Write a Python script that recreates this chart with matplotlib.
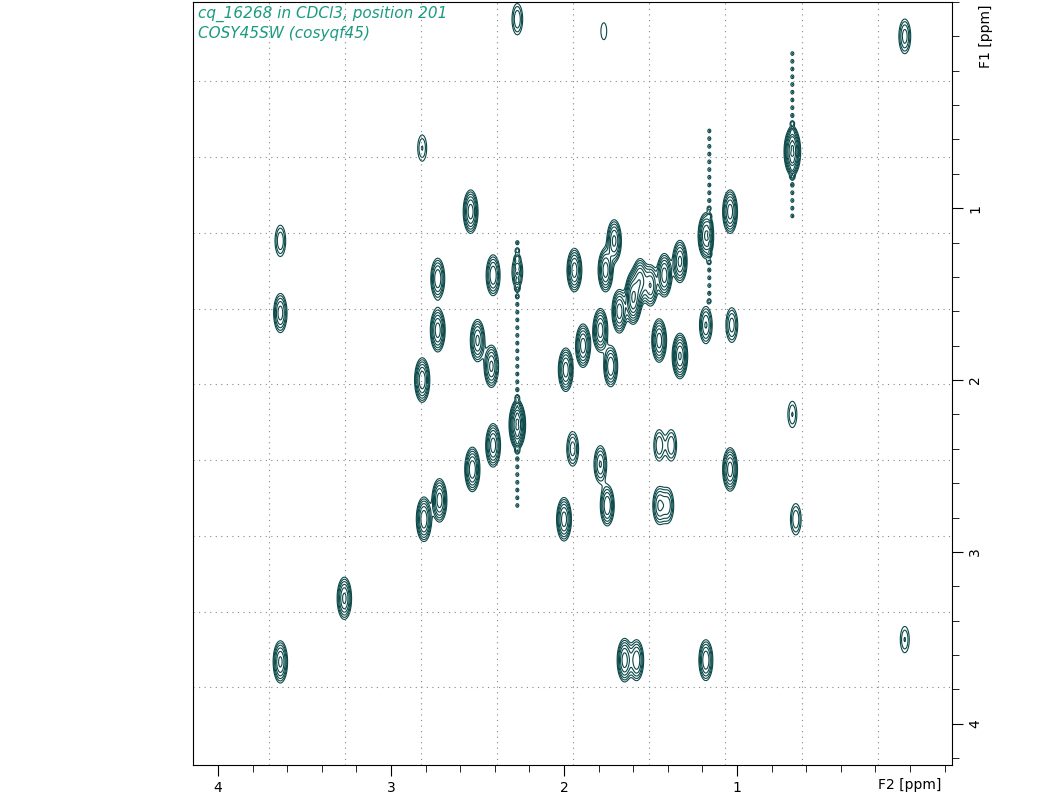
import matplotlib
matplotlib.use("Agg")
import matplotlib.pyplot as plt
import numpy as np

# peak list: F2 (ppm), F1 (ppm), height
peak_f2 = [0.03, 2.27, 1.77, 0.68, 2.82, 2.54, 3.64, 2.73, 2.41, 2.27, 1.94, 1.71, 1.76, 1.56,
           1.42, 1.33, 1.18, 1.04, 3.64, 2.73, 2.50, 2.42, 2.82, 1.99, 1.89, 1.79, 1.68, 1.60,
           1.45, 1.33, 1.18, 1.03, 1.73, 2.27, 2.53, 2.41, 1.95, 1.79, 1.45, 1.38, 1.04, 0.68,
           2.81, 2.72, 2.00, 1.75, 1.45, 1.40, 0.66, 3.27, 3.64, 1.65, 1.58, 1.18, 0.03, 1.60, 1.50]
peak_f1 = [0.00, -0.10, -0.03, 0.67, 0.65, 1.02, 1.19, 1.41, 1.39, 1.37, 1.36, 1.19, 1.36, 1.42,
           1.39, 1.31, 1.16, 1.02, 1.61, 1.71, 1.77, 1.92, 2.00, 1.94, 1.80, 1.71, 1.60, 1.50,
           1.77, 1.86, 1.68, 1.68, 1.92, 2.26, 2.52, 2.38, 2.40, 2.49, 2.38, 2.38, 2.52, 2.20,
           2.81, 2.70, 2.81, 2.73, 2.73, 2.73, 2.81, 3.27, 3.64, 3.63, 3.63, 3.63, 3.51, 1.55, 1.45]
peak_h = [0.5, 0.4, 0.2, 1.6, 0.3, 1.0, 0.4, 0.8, 0.8, 0.4, 1.0, 0.9, 1.0, 1.0,
          1.0, 0.9, 1.2, 1.0, 0.7, 1.0, 0.9, 0.9, 1.1, 1.0, 1.0, 1.0, 1.0, 1.0,
          1.0, 1.2, 0.6, 0.5, 0.8, 1.6, 1.1, 1.0, 0.5, 0.6, 0.4, 0.4, 1.0, 0.3,
          1.1, 1.0, 1.0, 0.8, 0.6, 0.5, 0.4, 0.9, 0.9, 1.0, 0.8, 0.8, 0.3, 0.8, 0.8]
peak_wx = 0.022
peak_wy = 0.065

# t1-noise streaks: F2 position, F1 start, F1 end
streak_f2 = [0.68, 2.27, 1.16]
streak_lo = [0.10, 1.20, 0.55]
streak_hi = [1.05, 2.75, 1.55]

x = np.linspace(-0.25, 4.15, 900)
y = np.linspace(-0.22, 4.25, 900)
X, Y = np.meshgrid(x, y)
Z = np.zeros_like(X)
for px, py, h in zip(peak_f2, peak_f1, peak_h):
    Z += h * np.exp(-((X - px) / peak_wx) ** 2 / 2 - ((Y - py) / peak_wy) ** 2 / 2)
for sx, lo, hi in zip(streak_f2, streak_lo, streak_hi):
    for sy in np.arange(lo, hi, 0.045):
        Z += 0.22 * np.exp(-((X - sx) / 0.01) ** 2 / 2 - ((Y - sy) / 0.012) ** 2 / 2)

fig = plt.figure(figsize=(10.6, 7.93), dpi=100)
ax = fig.add_axes([193 / 1060, 1 - 765 / 793, 759 / 1060, 763 / 793])
levels = 0.15 * 1.4 ** np.arange(8)
ax.contour(X, Y, Z, levels=levels, colors="#0b4848", linewidths=0.8)

ax.set_xlim(4.145, -0.243)
ax.set_ylim(4.24, -0.2)

for g in np.arange(3.707, -0.2, -0.44):
    ax.axvline(g, color="#888888", ls=(0, (1, 4)), lw=0.8)
for g in np.arange(0.261, 4.2, 0.441):
    ax.axhline(g, color="#888888", ls=(0, (1, 4)), lw=0.8)

ax.set_xticks([4, 3, 2, 1])
ax.set_xticklabels(["4", "3", "2", "1"])
ax.set_xticks(np.arange(-0.2, 4.11, 0.2), minor=True)
ax.yaxis.tick_right()
ax.set_yticks([1, 2, 3, 4])
ax.set_yticks(np.arange(-0.2, 4.21, 0.2), minor=True)
ax.set_yticklabels(["1", "2", "3", "4"], rotation=90, va="center")
ax.tick_params(which="major", length=8, labelsize=10)
ax.tick_params(which="minor", length=5)
ax.text(0.0, -0.026, "F2 [ppm]", transform=ax.get_xaxis_transform(), ha="center", va="center", fontsize=10)
ax.text(1.035, 0.0, "F1 [ppm]", transform=ax.get_yaxis_transform(), ha="left", va="center",
        rotation=90, fontsize=10)

ax.text(0.007, 0.995, "cq_16268 in CDCl3, position 201\nCOSY45SW (cosyqf45)", transform=ax.transAxes,
        ha="left", va="top", fontsize=11, style="italic", color="#1a9a80", linespacing=1.3)

fig.savefig("out.png", dpi=100)
